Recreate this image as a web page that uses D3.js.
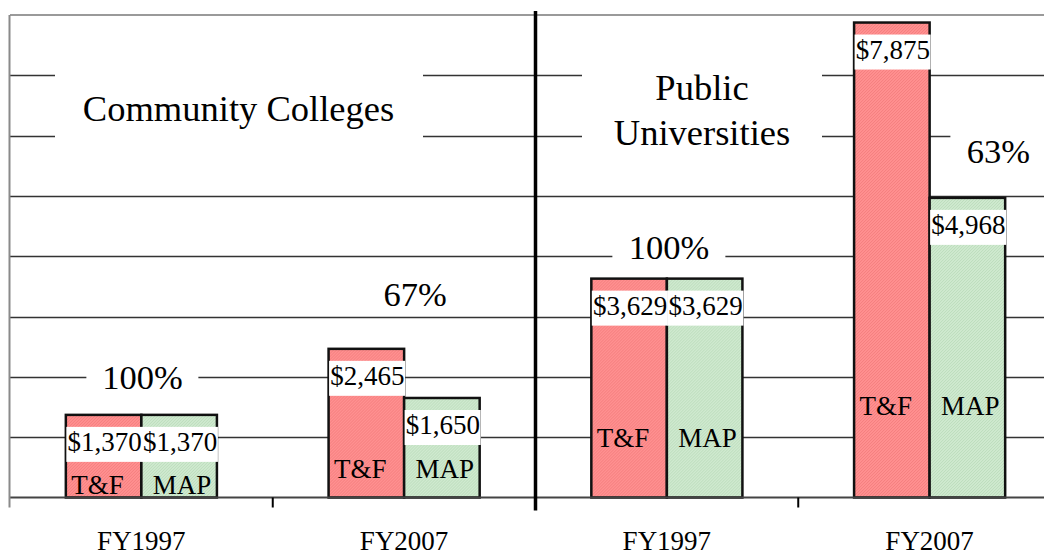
<!DOCTYPE html>
<html>
<head>
<meta charset="utf-8">
<script src="https://cdn.jsdelivr.net/npm/d3@7"></script>
<style>
  html, body { margin: 0; padding: 0; background: #fff; }
  svg { display: block; }
  text { font-family: "Liberation Serif", "Times New Roman", serif; fill: #000; }
</style>
</head>
<body>
<svg id="chart" width="1044" height="555"></svg>
<script>
// ---- data ----
const categories = ["FY1997", "FY2007", "FY1997", "FY2007"];
const sectorTitles = ["Community Colleges", "Public Universities"];
const seriesNames = ["T&F", "MAP"];
const tfValues = [1370, 2465, 3629, 7875];
const mapValues = [1370, 1650, 3629, 4968];
const pctLabels = ["100%", "67%", "100%", "63%"];
const yTickValues = [0, 1000, 2000, 3000, 4000, 5000, 6000, 7000, 8000];

// ---- layout ----
const svg = d3.select("#chart");
const W = 1044, H = 555;
const plotLeft = 10, plotRight = 1061, plotTop = 15, plotBottom = 497.5;

const x = d3.scaleBand()
  .domain(d3.range(categories.length))
  .range([plotLeft, plotRight])
  .paddingInner(0.425)
  .paddingOuter(0.2125);
const xs = d3.scaleBand().domain(seriesNames).range([0, x.bandwidth()]).padding(0);
const y = d3.scaleLinear().domain([0, 8000]).range([plotBottom, plotTop]);

const rows = categories.map((c, i) => ({ i, cat: c, values: [tfValues[i], mapValues[i]] }));

// patterns (textured fills)
const defs = svg.append("defs");
function makePattern(id, base, dot) {
  const p = defs.append("pattern").attr("id", id).attr("width", 3).attr("height", 3)
    .attr("patternUnits", "userSpaceOnUse");
  p.append("rect").attr("width", 3).attr("height", 3).attr("fill", base);
  p.append("rect").attr("x", 0).attr("y", 0).attr("width", 1).attr("height", 1).attr("fill", dot);
  p.append("rect").attr("x", 2).attr("y", 1).attr("width", 1).attr("height", 1).attr("fill", dot);
  p.append("rect").attr("x", 1).attr("y", 2).attr("width", 1).attr("height", 1).attr("fill", dot);
}
makePattern("pinkPat", "#FF9090", "#F47E7E");
makePattern("greenPat", "#CFE9CF", "#BCDDBC");
const fills = { "T&F": "url(#pinkPat)", "MAP": "url(#greenPat)" };

// gridlines
svg.append("g").selectAll("line")
  .data(yTickValues.filter(v => v > 0 && v < 8000))
  .join("line")
  .attr("x1", plotLeft).attr("x2", W)
  .attr("y1", d => Math.round(y(d)) + 0.5).attr("y2", d => Math.round(y(d)) + 0.5)
  .attr("stroke", "#333").attr("stroke-width", 1.3);

// top border
svg.append("line").attr("x1", plotLeft).attr("x2", W)
  .attr("y1", y(8000)).attr("y2", y(8000))
  .attr("stroke", "#9a9a9a").attr("stroke-width", 2);

// sector title boxes
const titleFont = 36.5;
const cc = svg.append("g");
cc.append("rect").attr("x", 55).attr("y", 60).attr("width", 368).attr("height", 90).attr("fill", "#fff");
cc.append("text").attr("x", 238.5).attr("y", 121).attr("text-anchor", "middle")
  .attr("font-size", titleFont).text(sectorTitles[0]);

const pu = svg.append("g");
pu.append("rect").attr("x", 582).attr("y", 60).attr("width", 240).attr("height", 95).attr("fill", "#fff");
const puWords = sectorTitles[1].split(" ");
pu.append("text").attr("x", 702).attr("y", 100).attr("text-anchor", "middle")
  .attr("font-size", titleFont).text(puWords[0]);
pu.append("text").attr("x", 702).attr("y", 145).attr("text-anchor", "middle")
  .attr("font-size", titleFont).text(puWords[1]);

// percentage labels (with white backing where they cross gridlines)
const pctFont = 34.5;
const pctPlace = [
  { ref: i => x(i) + x.bandwidth() / 2 + 1, v: i => tfValues[i], dy: -26, box: [112, 38] },
  { ref: i => x(i) + x.bandwidth() / 2 + 11, v: i => tfValues[i], dy: -43, box: null },
  { ref: i => x(i) + x.bandwidth() / 2 + 2, v: i => tfValues[i], dy: -20, box: [113, 38] },
  { ref: i => x(i) + xs("MAP") + xs.bandwidth() / 2 + 31, v: i => mapValues[i], dy: -35, box: [96, 42] }
];
const pctG = svg.append("g");
pctLabels.forEach((lab, i) => {
  const p = pctPlace[i];
  const cx = p.ref(i), by = y(p.v(i)) + p.dy;
  if (p.box) {
    pctG.append("rect").attr("x", cx - p.box[0] / 2).attr("y", by - 30)
      .attr("width", p.box[0]).attr("height", p.box[1]).attr("fill", "#fff");
  }
  pctG.append("text").attr("x", cx).attr("y", by).attr("text-anchor", "middle")
    .attr("font-size", pctFont).text(lab);
});

// bars
const groups = svg.append("g").selectAll("g.grp")
  .data(rows).join("g").attr("class", "grp")
  .attr("transform", d => `translate(${x(d.i)},0)`);

groups.selectAll("rect.bar")
  .data(d => d.values.map((v, k) => ({ s: seriesNames[k], v })))
  .join("rect").attr("class", "bar")
  .attr("x", d => xs(d.s))
  .attr("y", d => y(d.v))
  .attr("width", xs.bandwidth())
  .attr("height", d => y(0) - y(d.v))
  .attr("fill", d => fills[d.s])
  .attr("stroke", "#111").attr("stroke-width", 2.5);

// value labels with white boxes
const fmt = d3.format("$,");
groups.selectAll("g.val")
  .data(d => d.values.map((v, k) => ({ s: seriesNames[k], v })))
  .join("g").attr("class", "val")
  .each(function (d) {
    const g = d3.select(this);
    g.append("rect").attr("x", xs(d.s) + 0.5).attr("y", y(d.v) + 12)
      .attr("width", xs.bandwidth() + 0.5).attr("height", 35).attr("fill", "#fff");
    g.append("text").attr("x", xs(d.s) + xs.bandwidth() / 2 + 1).attr("y", y(d.v) + 36)
      .attr("text-anchor", "middle").attr("font-size", 27).text(fmt(d.v));
  });

// series labels inside bars
const seriesLabelValue = [50, 320, 830, 1360];
const seriesDx = { "T&F": -6, "MAP": 3 };
groups.selectAll("text.ser")
  .data(d => seriesNames.map(s => ({ s, i: d.i })))
  .join("text").attr("class", "ser")
  .attr("x", d => xs(d.s) + xs.bandwidth() / 2 + seriesDx[d.s])
  .attr("y", d => y(seriesLabelValue[d.i]))
  .attr("text-anchor", "middle").attr("font-size", 27)
  .text(d => d.s);

// baseline
svg.append("line").attr("x1", plotLeft).attr("x2", W)
  .attr("y1", y(0)).attr("y2", y(0))
  .attr("stroke", "#444").attr("stroke-width", 2);

// left axis
svg.append("line").attr("x1", plotLeft - 0.5).attr("x2", plotLeft - 0.5)
  .attr("y1", y(8000)).attr("y2", y(0) + 10)
  .attr("stroke", "#8a8a8a").attr("stroke-width", 2);

// category boundary ticks
const boundaries = d3.range(1, categories.length).map(i => x(i) - x.step() * x.paddingInner() / 2);
svg.append("g").selectAll("line")
  .data(boundaries)
  .join("line")
  .attr("x1", d => d).attr("x2", d => d)
  .attr("y1", (d, k) => k === 1 ? 11 : y(0))
  .attr("y2", (d, k) => k === 1 ? y(0) + 13 : y(0) + 10)
  .attr("stroke", "#000")
  .attr("stroke-width", (d, k) => k === 1 ? 3.5 : 2);

// category labels
svg.append("g").selectAll("text")
  .data(rows).join("text")
  .attr("x", d => x(d.i) + x.bandwidth() / 2)
  .attr("y", 550)
  .attr("text-anchor", "middle").attr("font-size", 27)
  .text(d => d.cat);
</script>
</body>
</html>
